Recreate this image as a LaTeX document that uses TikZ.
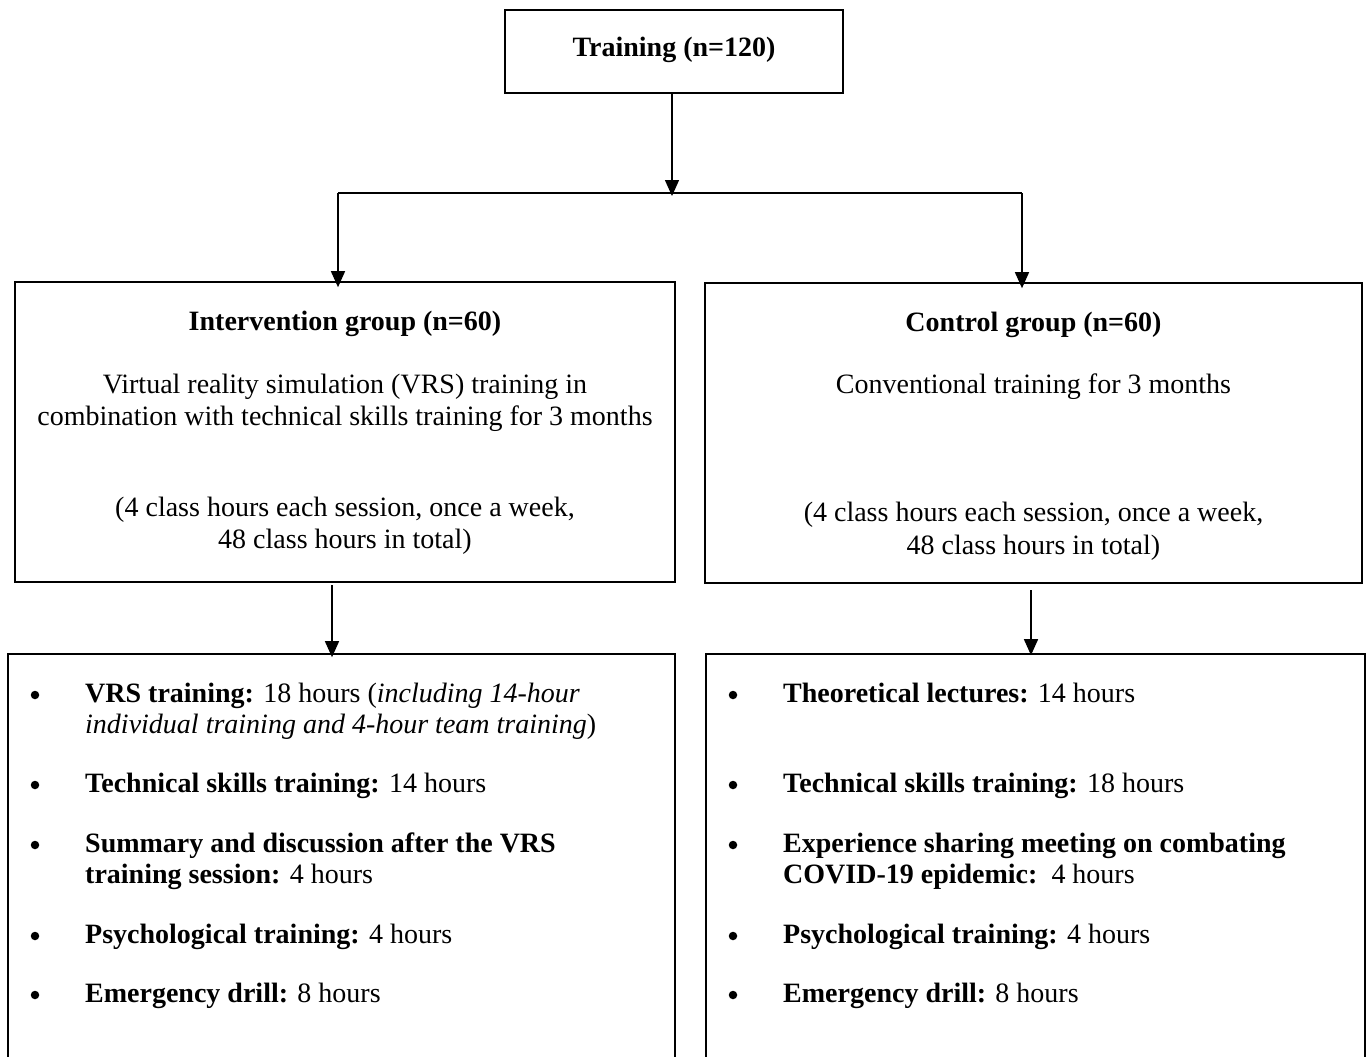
\documentclass[tikz,border=0pt]{standalone}
\usepackage{fontspec}
\setmainfont{Liberation Serif}
\usetikzlibrary{arrows.meta}
\begin{document}
\begin{tikzpicture}[x=1pt,y=-1pt,
  boxstyle/.style={draw=black,line width=1.6pt,inner sep=0pt},
  txt/.style={inner sep=0pt,font=\fontsize{28}{32}\selectfont},
  ctxt/.style={txt,anchor=base},
  ltxt/.style={txt,anchor=base west},
  bul/.style={circle,fill=black,inner sep=0pt,minimum size=8.5pt},
  arr/.style={line width=1.4pt,-{Triangle[width=14pt,length=16pt]}},
  conn/.style={line width=1.4pt}]
\useasboundingbox (0,0) rectangle (1369,1057);
% boxes
\node[boxstyle,minimum width=338pt,minimum height=83pt] (top) at (674,51.5) {};
\node[boxstyle,minimum width=660pt,minimum height=300pt] (int) at (345,432) {};
\node[boxstyle,minimum width=657pt,minimum height=300pt] (ctl) at (1033.5,433) {};
\node[boxstyle,minimum width=667pt,minimum height=440pt] (intlist) at (341.5,874) {};
\node[boxstyle,minimum width=659pt,minimum height=440pt] (ctllist) at (1035.5,874) {};
% top text
\node[ctxt] (toptxt) at (674,57) {\textbf{Training (n=120)}};
% intervention text
\node[ctxt] (it1) at (345,330) {\textbf{Intervention group (n=60)}};
\node[ctxt] (it2) at (345,393) {Virtual reality simulation (VRS) training in};
\node[ctxt] (it3) at (345,425) {combination with technical skills training for 3 months};
\node[ctxt] (it4) at (345,516) {(4 class hours each session, once a week,};
\node[ctxt] (it5) at (345,548) {48 class hours in total)};
% control text
\node[ctxt] (ct1) at (1033.5,331) {\textbf{Control group (n=60)}};
\node[ctxt] (ct2) at (1033.5,393) {Conventional training for 3 months};
\node[ctxt] (ct4) at (1033.5,521) {(4 class hours each session, once a week,};
\node[ctxt] (ct5) at (1033.5,554) {48 class hours in total)};
% left list
\node[bul] (lb1) at (35,695) {};
\node[ltxt] (l1a) at (85,702) {\textbf{VRS training:} 18 hours (\textit{including 14-hour}};
\node[ltxt] (l1b) at (85,733) {\textit{individual training and 4-hour team training})};
\node[bul] (lb2) at (35,785) {};
\node[ltxt] (l2) at (85,792) {\textbf{Technical skills training:} 14 hours};
\node[bul] (lb3) at (35,845) {};
\node[ltxt] (l3a) at (85,852) {\textbf{Summary and discussion after the VRS}};
\node[ltxt] (l3b) at (85,883) {\textbf{training session:} 4 hours};
\node[bul] (lb4) at (35,936) {};
\node[ltxt] (l4) at (85,943) {\textbf{Psychological training:} 4 hours};
\node[bul] (lb5) at (35,995) {};
\node[ltxt] (l5) at (85,1002) {\textbf{Emergency drill:} 8 hours};
% right list
\node[bul] (rb1) at (733,695) {};
\node[ltxt] (r1) at (783,702) {\textbf{Theoretical lectures:} 14 hours};
\node[bul] (rb2) at (733,785) {};
\node[ltxt] (r2) at (783,792) {\textbf{Technical skills training:} 18 hours};
\node[bul] (rb3) at (733,845) {};
\node[ltxt] (r3a) at (783,852) {\textbf{Experience sharing meeting on combating}};
\node[ltxt] (r3b) at (783,883) {\textbf{COVID-19 epidemic:}\ \ 4 hours};
\node[bul] (rb4) at (733,936) {};
\node[ltxt] (r4) at (783,943) {\textbf{Psychological training:} 4 hours};
\node[bul] (rb5) at (733,995) {};
\node[ltxt] (r5) at (783,1002) {\textbf{Emergency drill:} 8 hours};
% connectors
\coordinate (split) at (672,193);
\coordinate (splitL) at (338,193);
\coordinate (splitR) at (1022,193);
\draw[arr] (top.south -| split) -- ([yshift=-3pt]split);
\draw[conn] (splitL) -- (splitR);
\draw[arr] (splitL) -- ([yshift=-6pt]splitL |- int.north);
\draw[arr] (splitR) -- ([yshift=-6pt]splitR |- ctl.north);
\coordinate (ia) at (332,585);
\coordinate (ca) at (1031,590);
\draw[arr] (ia) -- ([yshift=-4pt]ia |- intlist.north);
\draw[arr] (ca) -- ([yshift=-2pt]ca |- ctllist.north);
\end{tikzpicture}
\end{document}
